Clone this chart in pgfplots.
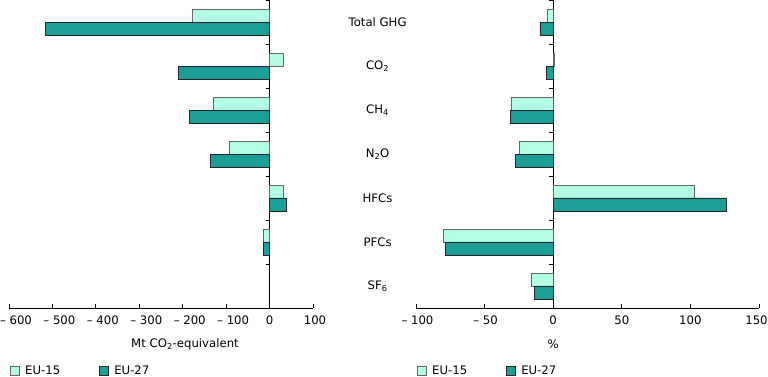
\documentclass[border=0pt]{standalone}
\usepackage{pgfplots}
\pgfplotsset{compat=1.18}
\usepackage{fontspec}
\setmainfont{DejaVu Sans}
\definecolor{light}{RGB}{178,255,230}
\definecolor{dark}{RGB}{26,158,149}
\begin{document}
\fontsize{11.7pt}{14pt}\selectfont
\begin{tikzpicture}[x=1pt,y=1pt]
\path[use as bounding box] (0,0) rectangle (768,377);
\pgfplotsset{
 common/.style={
  scale only axis, height=308pt,
  xbar, bar width=13pt,
  ymin=-0.5, ymax=6.5,
  axis x line=bottom, axis y line=middle,
  axis line style={-, black, line width=0.8pt},
  ytick={0.5,1.5,2.5,3.5,4.5,5.5,6.5}, yticklabels={},
  ytick align=outside, xtick align=inside,
  major tick length=4pt,
  tick style={black, line width=0.8pt},
  hide obscured x ticks=false,
  xticklabel style={yshift=-4pt},
  clip=false,
  legend columns=2,
  legend style={draw=none, fill=none, inner sep=0pt,
    /tikz/every even column/.append style={column sep=36pt}},
  legend image code/.code={\draw[#1] (1pt,-4.5pt) rectangle (10pt,4.5pt); \path[draw=none, fill=none] (0pt,-4.5pt) rectangle (14pt,4.5pt);},
 },
 eu15/.style={fill=light, draw=black!60, line width=0.6pt, bar shift=6.5pt},
 eu27/.style={fill=dark, draw=black!85, line width=0.6pt, bar shift=-6.5pt},
}
\begin{axis}[common, at={(9pt,69pt)}, anchor=south west, width=304pt,
  xmin=-600, xmax=100,
  xtick={-600,-500,-400,-300,-200,-100,0,100},
  xticklabels={\hspace*{14pt}– 600,\hspace*{14pt}– 500,\hspace*{14pt}– 400,\hspace*{14pt}– 300,\hspace*{14pt}– 200,\hspace*{14pt}– 100,0,\hspace*{4pt}100},
  xlabel={Mt CO\textsubscript{2}-equivalent},
  xlabel style={at={(rel axis cs:0.579,0)}, anchor=center, yshift=-36pt},
  legend style={at={(rel axis cs:0,-0.2045)}, anchor=west},
]
\addplot[eu15] coordinates {(-179,6) (32,5) (-129,4) (-92,3) (31,2) (-15,1)};
\addplot[eu27] coordinates {(-517,6) (-210,5) (-185,4) (-137,3) (38,2) (-14,1)};
\legend{EU-15, EU-27}
\end{axis}
\begin{axis}[common, at={(416pt,69pt)}, anchor=south west, width=343pt,
  xmin=-100, xmax=150,
  xtick={-100,-50,0,50,100,150},
  xticklabels={\hspace*{3pt}– 100,\hspace*{2pt}– 50,0,50,100,150\hspace*{5pt}},
  xlabel={\%},
  xlabel style={at={(rel axis cs:0.4,0)}, anchor=center, yshift=-36pt},
  legend style={at={(rel axis cs:0,-0.2045)}, anchor=west},
]
\addplot[eu15] coordinates {(-4.4,6) (0.5,5) (-30.4,4) (-25,3) (102.7,2) (-80.3,1) (-15.8,0)};
\addplot[eu27] coordinates {(-9.7,6) (-4.9,5) (-31.1,4) (-27.3,3) (125.8,2) (-78.3,1) (-13.9,0)};
\legend{EU-15, EU-27}
\node at (axis cs:-128,6) {Total GHG};
\node at (axis cs:-128,5) {CO\textsubscript{2}};
\node at (axis cs:-128,4) {CH\textsubscript{4}};
\node at (axis cs:-128,3) {N\textsubscript{2}O};
\node at (axis cs:-128,2) {HFCs};
\node at (axis cs:-128,1) {PFCs};
\node at (axis cs:-128,0) {SF\textsubscript{6}};
\end{axis}
\end{tikzpicture}
\end{document}
